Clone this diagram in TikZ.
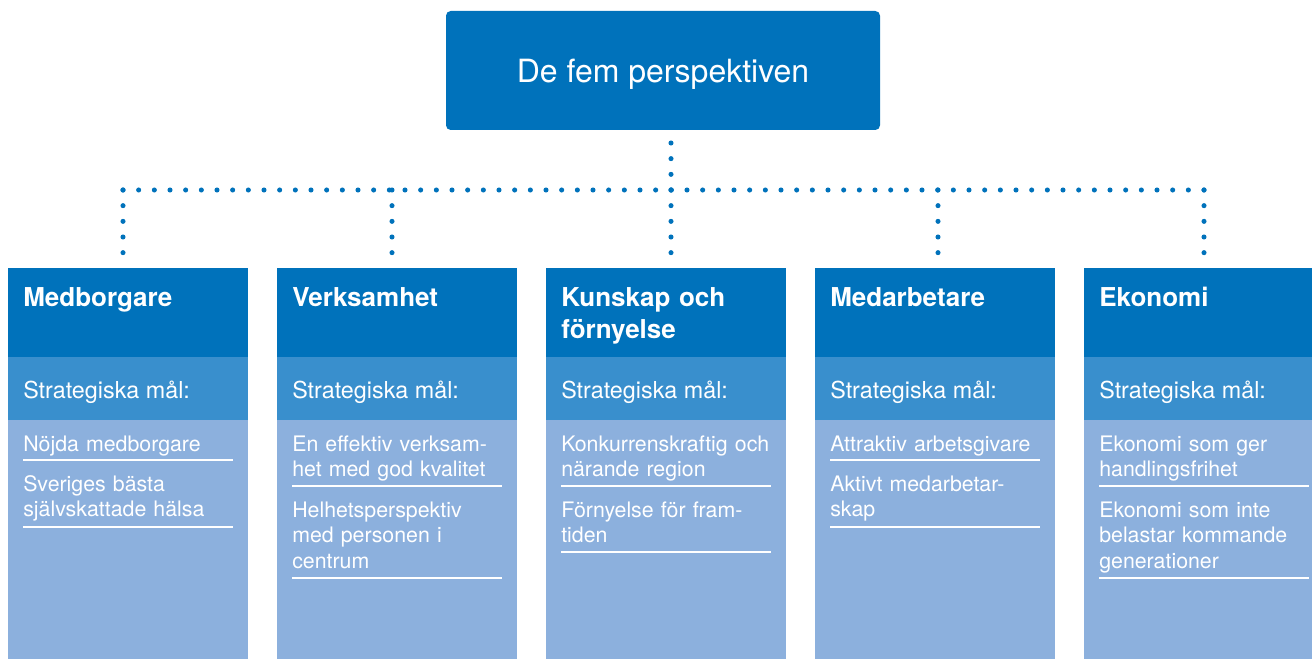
\documentclass[tikz,border=0pt]{standalone}
\usepackage{fontspec}
\setmainfont{TeX Gyre Heros}
\usepackage{xcolor}
\definecolor{fblue}{RGB}{0,114,187}
\definecolor{fmid}{RGB}{57,143,205}
\definecolor{flight}{RGB}{140,176,221}
\tikzset{
  dots/.style={draw=fblue, line width=3.8pt, line cap=round, dash pattern=on 0pt off 11.75pt},
  topbox/.style={fill=fblue, rounded corners=3.5pt, minimum width=325.5pt, minimum height=89.25pt,
    inner sep=0pt, text=white, text depth=0pt, font=\fontsize{24}{28}\selectfont},
  colbox/.style={anchor=north west, inner sep=0pt, minimum width=180pt},
  headbox/.style={colbox, fill=fblue, minimum height=66.75pt},
  midbox/.style={colbox, fill=fmid, minimum height=47.25pt},
  lowbox/.style={colbox, fill=flight, minimum height=179.25pt},
  headtxt/.style={anchor=base west, inner sep=0pt, text=white, text width=157.5pt, align=left,
    font=\bfseries\fontsize{19.5}{24}\selectfont},
  goaltxt/.style={anchor=base west, inner sep=0pt, text=white, font=\fontsize{17.5}{21}\selectfont},
  item/.style={anchor=base west, inner sep=0pt, text=white, text width=157.5pt, align=left,
    font=\fontsize{16}{19.2}\selectfont},
  rule/.style={draw=white, line width=1.5pt}
}
\begin{document}
\begin{tikzpicture}[x=0.75pt,y=-0.75pt]
  \useasboundingbox (0,0) rectangle (1312,659);
  \clip (0,0) rectangle (1312,659);
  \node[topbox] (top) at (663,70.5) {De fem perspektiven};
  \foreach \x/\n/\heading in {8/1/Medborgare, 277/2/Verksamhet, 546/3/{Kunskap och\\förnyelse},
      815/4/Medarbetare, 1084/5/Ekonomi}{
    \node[headbox] (h\n) at (\x,268) {};
    \node[midbox] (m\n) at (\x,357) {};
    \node[lowbox] (l\n) at (\x,420) {};
    \node[headtxt] (t\n) at (\x+15,306) {\heading};
    \node[goaltxt] (s\n) at (\x+15,398) {Strategiska mål:};
  }
  \coordinate (bus) at (671,190);
  \coordinate (d1) at (123,190);
  \coordinate (d2) at (392,190);
  \coordinate (d3) at (671,190);
  \coordinate (d4) at (938,190);
  \coordinate (d5) at (1204,190);
  \draw[dots] (bus) -- (bus |- top.south);
  \draw[dots] (d1) -- (d5);
  \foreach \n in {1,...,5}
    \draw[dots] (d\n) -- (d\n |- h\n.north);

  \node[item] (g11) at (23,451) {Nöjda medborgare};
  \draw[rule] (23,460) -- ++(210,0);
  \node[item] (g12) at (23,491) {Sveriges bästa\\självskattade hälsa};
  \draw[rule] (23,527) -- ++(210,0);

  \node[item] (g21) at (292,451) {En effektiv verksam-\\het med god kvalitet};
  \draw[rule] (292,486) -- ++(210,0);
  \node[item] (g22) at (292,517) {Helhetsperspektiv\\med personen i\\centrum};
  \draw[rule] (292,578) -- ++(210,0);

  \node[item] (g31) at (561,451) {Konkurrenskraftig och\\närande region};
  \draw[rule] (561,486) -- ++(210,0);
  \node[item] (g32) at (561,517) {Förnyelse för fram-\\tiden};
  \draw[rule] (561,552) -- ++(210,0);

  \node[item] (g41) at (830,451) {Attraktiv arbetsgivare};
  \draw[rule] (830,460) -- ++(210,0);
  \node[item] (g42) at (830,491) {Aktivt medarbetar-\\skap};
  \draw[rule] (830,527) -- ++(210,0);

  \node[item] (g51) at (1099,451) {Ekonomi som ger\\handlingsfrihet};
  \draw[rule] (1099,486) -- ++(210,0);
  \node[item] (g52) at (1099,517) {Ekonomi som inte\\belastar kommande\\generationer};
  \draw[rule] (1099,578) -- ++(210,0);
\end{tikzpicture}
\end{document}
